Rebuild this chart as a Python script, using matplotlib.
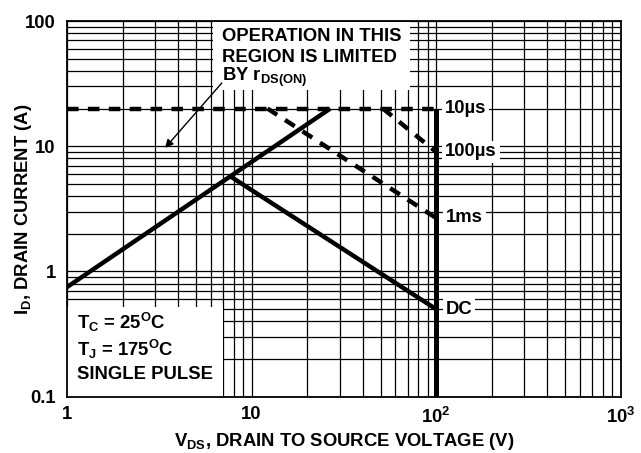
import numpy as np
import matplotlib
matplotlib.use("Agg")
from matplotlib import pyplot as plt
from matplotlib.patches import Rectangle
from matplotlib.ticker import FixedLocator, LogLocator, NullFormatter

plt.rcParams['font.family'] = ['Liberation Sans', 'DejaVu Sans']
plt.rcParams['font.weight'] = 'bold'
plt.rcParams['mathtext.fontset'] = 'custom'
plt.rcParams['mathtext.rm'] = 'Liberation Sans:bold'
plt.rcParams['mathtext.it'] = 'Liberation Sans:bold'
plt.rcParams['mathtext.bf'] = 'Liberation Sans:bold'

# rDS(ON) limit line
rds_v = [1, 26.7]
rds_i = [0.75, 20]
# DC thermal limit
dc_v = [7.6, 100]
dc_i = [5.8, 0.5]
# BVDSS limit
bv_v = [100, 100]
bv_i = [20, 0.1]
# pulse limits
t10us_v = [1, 100]
t10us_i = [20, 20]
t100us_v = [51.5, 100]
t100us_i = [20, 9.0]
t1ms_v = [12.2, 100]
t1ms_i = [20, 2.67]

x_ticks = [1, 10, 100, 1000]
x_ticklabels = ['1', '10', r'10$^2$', r'10$^3$']
y_ticks = [0.1, 1, 10, 100]
y_ticklabels = ['0.1', '1', '10', '100']

fs = 13.3

fig = plt.figure(figsize=(6.41, 4.53), dpi=100)
ax = fig.add_axes([0.1045, 0.1243, 0.8638, 0.8293])
ax.set_xscale('log')
ax.set_yscale('log')
ax.set_xlim(1, 1000)
ax.set_ylim(0.1, 100)

ax.xaxis.set_major_locator(FixedLocator(x_ticks))
ax.yaxis.set_major_locator(FixedLocator(y_ticks))
ax.xaxis.set_minor_locator(LogLocator(base=10, subs=np.arange(2, 10)))
ax.yaxis.set_minor_locator(LogLocator(base=10, subs=np.arange(2, 10)))
ax.xaxis.set_minor_formatter(NullFormatter())
ax.yaxis.set_minor_formatter(NullFormatter())
ax.set_xticklabels(x_ticklabels, fontsize=fs, fontweight='bold')
ax.set_yticklabels(y_ticklabels, fontsize=fs, fontweight='bold')
ax.tick_params(which='both', length=0)
ax.tick_params(axis='x', pad=7)
ax.tick_params(axis='y', pad=8)
ax.set_axisbelow(True)
ax.grid(which='both', color='black', linewidth=0.9, linestyle='-')
for s in ax.spines.values():
    s.set_linewidth(1.3)

# white boxes hiding the grid
ax.add_patch(Rectangle((0.264, 0.816), 0.355, 0.181, transform=ax.transAxes,
                       facecolor='white', edgecolor='none', zorder=1))
ax.add_patch(Rectangle((0.0, 0.0), 0.282, 0.239, transform=ax.transAxes,
                       facecolor='white', edgecolor='none', zorder=1))

lw = 3.2
ax.plot(rds_v, rds_i, color='black', linewidth=lw, solid_capstyle='butt', zorder=3)
ax.plot(dc_v, dc_i, color='black', linewidth=lw, solid_capstyle='butt', zorder=3)
ax.plot(bv_v, bv_i, color='black', linewidth=lw + 0.4, solid_capstyle='butt', zorder=3)
for v, i in [(t10us_v, t10us_i), (t100us_v, t100us_i), (t1ms_v, t1ms_i)]:
    ax.plot(v, i, color='black', linewidth=lw, dashes=(2.6, 2.1),
            dash_capstyle='butt', zorder=3)

# region labels
lbl = dict(fontsize=fs, fontweight='bold', va='center', ha='left', zorder=4,
           bbox=dict(facecolor='white', edgecolor='none', pad=2))
ax.text(112, 20, '10µs', **lbl)
ax.text(112, 9.0, '100µs', **lbl)
ax.text(113, 2.68, '1ms', **lbl)
ax.text(113, 0.5, 'DC', **lbl)

txt = dict(fontsize=fs, fontweight='bold', va='center', ha='left', zorder=4,
           transform=ax.transAxes)
ax.text(0.28, 0.958, 'OPERATION IN THIS', **txt)
ax.text(0.28, 0.904, 'REGION IS LIMITED', **txt)
ax.text(0.28, 0.850, r'BY r$_{\mathrm{DS(ON)}}$', **txt)

ax.text(0.018, 0.198, r'T$_\mathrm{C}$ = 25$^\mathrm{O}$C', **txt)
ax.text(0.018, 0.126, r'T$_\mathrm{J}$ = 175$^\mathrm{O}$C', **txt)
ax.text(0.018, 0.058, 'SINGLE PULSE', **txt)

ax.annotate('', xy=(3.4, 9.7), xytext=(6.9, 32),
            arrowprops=dict(arrowstyle='-|>', color='black', lw=1.0,
                            mutation_scale=12, shrinkA=0, shrinkB=0), zorder=4)

ax.set_xlabel(r'V$_{\mathrm{DS}}$, DRAIN TO SOURCE VOLTAGE (V)', fontsize=fs,
              fontweight='bold')
ax.set_ylabel(r'I$_{\mathrm{D}}$, DRAIN CURRENT (A)', fontsize=fs,
              fontweight='bold')
ax.xaxis.set_label_coords(0.5, -0.09)
ax.yaxis.set_label_coords(-0.06, 0.5)

fig.savefig('out.png', dpi=100)
